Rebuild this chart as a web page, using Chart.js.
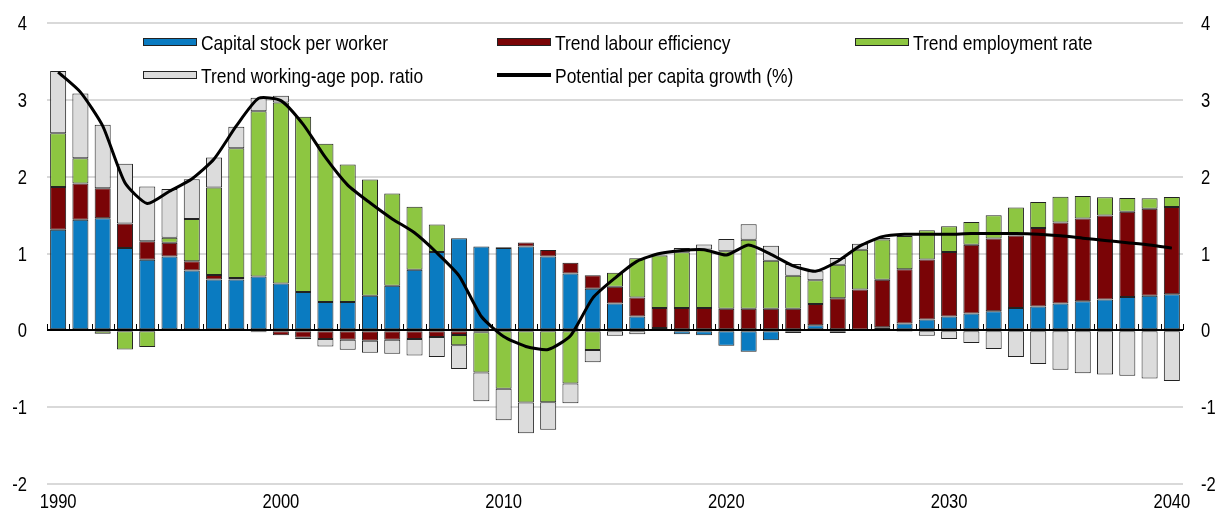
<!DOCTYPE html>
<html>
<head>
<meta charset="utf-8">
<script src="https://cdn.jsdelivr.net/npm/chart.js@4.4.1/dist/chart.umd.min.js"></script>
<style>
  html, body { margin: 0; padding: 0; background: #fff; }
  #wrap { width: 1220px; height: 510px; }
</style>
</head>
<body>
<div id="wrap"><canvas id="c" width="1220" height="510"></canvas></div>
<script>
const years = ['1990','1991','1992','1993','1994','1995','1996','1997','1998','1999',
  '2000','2001','2002','2003','2004','2005','2006','2007','2008','2009',
  '2010','2011','2012','2013','2014','2015','2016','2017','2018','2019',
  '2020','2021','2022','2023','2024','2025','2026','2027','2028','2029',
  '2030','2031','2032','2033','2034','2035','2036','2037','2038','2039','2040'];

const xTickLabels = ['1990','2000','2010','2020','2030','2040'];
const yTicks = [-2, -1, 0, 1, 2, 3, 4];

const capitalStock = [1.31,1.44,1.46,1.07,0.92,0.96,0.78,0.66,0.66,0.70,
  0.61,0.50,0.37,0.37,0.45,0.58,0.79,1.02,1.20,1.09,
  1.07,1.09,0.96,0.74,0.54,0.35,0.18,0.03,-0.05,-0.065,
  -0.20,-0.28,-0.13,-0.035,0.065,-0.035,0.01,0.04,0.09,0.14,
  0.18,0.22,0.25,0.29,0.31,0.35,0.38,0.40,0.435,0.45,0.47];

const labourEfficiency = [0.555,0.47,0.39,0.32,0.24,0.18,0.12,0.06,0.02,-0.026,
  -0.065,-0.096,-0.113,-0.122,-0.135,-0.122,-0.113,-0.087,-0.06,-0.026,
  0.01,0.052,0.087,0.139,0.178,0.217,0.248,0.26,0.29,0.29,
  0.28,0.28,0.28,0.28,0.278,0.417,0.52,0.617,0.704,0.783,
  0.839,0.895,0.944,0.945,1.022,1.052,1.074,1.096,1.108,1.131,1.135];

const employmentRate = [0.70,0.33,-0.043,-0.248,-0.217,0.065,0.548,1.14,1.69,2.15,
  2.356,2.28,2.057,1.787,1.513,1.20,0.818,0.356,-0.135,-0.522,
  -0.76,-0.94,-0.935,-0.691,-0.257,0.183,0.509,0.683,0.726,0.761,
  0.748,0.90,0.626,0.43,0.309,0.435,0.52,0.526,0.435,0.378,
  0.335,0.296,0.304,0.365,0.339,0.335,0.296,0.235,0.179,0.139,0.13];

const workingAgeRatio = [0.81,0.844,0.826,0.778,0.713,0.635,0.52,0.39,0.28,0.178,
  0.087,-0.02,-0.096,-0.13,-0.157,-0.183,-0.213,-0.26,-0.309,-0.374,
  -0.41,-0.40,-0.36,-0.257,-0.157,-0.07,-0.052,0.01,0.057,0.065,
  0.161,0.20,0.196,0.152,0.117,0.091,0.078,0.02,-0.017,-0.07,
  -0.113,-0.165,-0.243,-0.348,-0.439,-0.513,-0.557,-0.574,-0.591,-0.626,-0.661];

const potentialGrowth = [3.36,3.10,2.66,1.92,1.65,1.81,1.97,2.23,2.66,3.02,
  2.99,2.68,2.25,1.89,1.66,1.45,1.27,1.01,0.71,0.18,
  -0.08,-0.21,-0.25,-0.07,0.42,0.68,0.90,1.00,1.04,1.05,
  0.98,1.11,0.99,0.84,0.77,0.90,1.10,1.22,1.25,1.25,
  1.25,1.26,1.26,1.26,1.25,1.23,1.20,1.17,1.14,1.11,1.07];

const FONT = "'Liberation Sans', Arial, sans-serif";
const NARROW = 0.83;   // horizontal squeeze to mimic a narrow face
const COLORS = { blue: '#0A7BC1', red: '#7A0406', green: '#8DC641', grey: '#DCDCDC' };
const EDGE = '#222222';

function barDs(label, data, color) {
  return { type: 'bar', label, data, backgroundColor: color, borderColor: EDGE,
    borderWidth: 1, borderSkipped: false, stack: 'bars', order: 1,
    barPercentage: 0.72, categoryPercentage: 1.0 };
}

function narrowText(ctx, text, x, y, align, size) {
  ctx.save();
  ctx.font = size + 'px ' + FONT;
  ctx.textAlign = align;
  ctx.textBaseline = 'alphabetic';
  ctx.fillStyle = '#000';
  ctx.translate(x, y);
  ctx.scale(NARROW, 1);
  ctx.fillText(text, 0, 0);
  ctx.restore();
}

const overlay = {
  id: 'overlay',
  beforeDatasetDraw(chart, args) {
    if (args.index !== 4) return;
    const { ctx, chartArea: a, scales: { x, y } } = chart;
    const y0 = Math.round(y.getPixelForValue(0));
    const step = x.getPixelForValue(1) - x.getPixelForValue(0);
    ctx.save();
    ctx.strokeStyle = '#000';
    ctx.lineWidth = 2;
    ctx.beginPath(); ctx.moveTo(a.left, y0); ctx.lineTo(a.right, y0); ctx.stroke();
    ctx.lineWidth = 1;
    for (let i = 0; i <= years.length; i++) {
      const px = Math.round(x.getPixelForValue(i) - step / 2) + 0.5;
      ctx.beginPath(); ctx.moveTo(px, y0); ctx.lineTo(px, y0 - 6); ctx.stroke();
    }
    ctx.restore();
  },
  afterDraw(chart) {
    const ctx = chart.ctx;
    const { chartArea: a, scales: { x, y } } = chart;
    // axis tick labels
    for (const v of yTicks) {
      const py = y.getPixelForValue(v) + 7;
      narrowText(ctx, String(v), a.left - 20, py, 'right', 20);
      narrowText(ctx, String(v), a.right + 18, py, 'left', 20);
    }
    years.forEach((yr, i) => {
      if (xTickLabels.includes(yr)) narrowText(ctx, yr, x.getPixelForValue(i), a.bottom + 24, 'center', 20);
    });
    // legend
    const items = [
      { t: 'Capital stock per worker', c: COLORS.blue, x: 143, y: 42 },
      { t: 'Trend labour efficiency', c: COLORS.red, x: 497, y: 42 },
      { t: 'Trend employment rate', c: COLORS.green, x: 855, y: 42 },
      { t: 'Trend working-age pop. ratio', c: COLORS.grey, x: 143, y: 75 },
      { t: 'Potential per capita growth (%)', c: null, x: 497, y: 75 }
    ];
    ctx.save();
    for (const it of items) {
      if (it.c) {
        ctx.fillStyle = it.c;
        ctx.fillRect(it.x, it.y - 4, 54, 8);
        ctx.strokeStyle = EDGE; ctx.lineWidth = 1;
        ctx.strokeRect(it.x + 0.5, it.y - 4 + 0.5, 53, 7);
      } else {
        ctx.strokeStyle = '#000'; ctx.lineWidth = 4;
        ctx.beginPath(); ctx.moveTo(it.x, it.y); ctx.lineTo(it.x + 54, it.y); ctx.stroke();
      }
      narrowText(ctx, it.t, it.x + 58, it.y + 8, 'left', 21);
    }
    ctx.restore();
  }
};

new Chart(document.getElementById('c'), {
  data: {
    labels: years,
    datasets: [
      barDs('Capital stock per worker', capitalStock, COLORS.blue),
      barDs('Trend labour efficiency', labourEfficiency, COLORS.red),
      barDs('Trend employment rate', employmentRate, COLORS.green),
      barDs('Trend working-age pop. ratio', workingAgeRatio, COLORS.grey),
      { type: 'line', label: 'Potential per capita growth (%)', data: potentialGrowth,
        borderColor: '#000', borderWidth: 3, pointRadius: 0, tension: 0.2,
        stack: 'line', order: 0, fill: false }
    ]
  },
  options: {
    responsive: false,
    animation: false,
    layout: { padding: { top: 23, bottom: 0, left: 0, right: 0 } },
    plugins: { legend: { display: false }, tooltip: { enabled: false } },
    scales: {
      x: {
        stacked: true,
        grid: { display: false, drawTicks: false },
        border: { display: false },
        ticks: { display: false },
        afterFit(s) { s.height = 26; }
      },
      y: {
        stacked: true, position: 'left', min: -2, max: 4,
        afterBuildTicks(s) { s.ticks = yTicks.map(v => ({ value: v })); },
        ticks: { display: false },
        grid: { color: c => c.tick && c.tick.value === 0 ? 'rgba(0,0,0,0)' : '#D9D9D9', lineWidth: 2, drawTicks: false },
        border: { display: false },
        afterFit(s) { s.width = 47; }
      },
      y2: {
        position: 'right', min: -2, max: 4,
        ticks: { display: false },
        grid: { display: false, drawTicks: false },
        border: { display: false },
        afterFit(s) { s.width = 37; }
      }
    }
  },
  plugins: [overlay]
});
</script>
</body>
</html>
